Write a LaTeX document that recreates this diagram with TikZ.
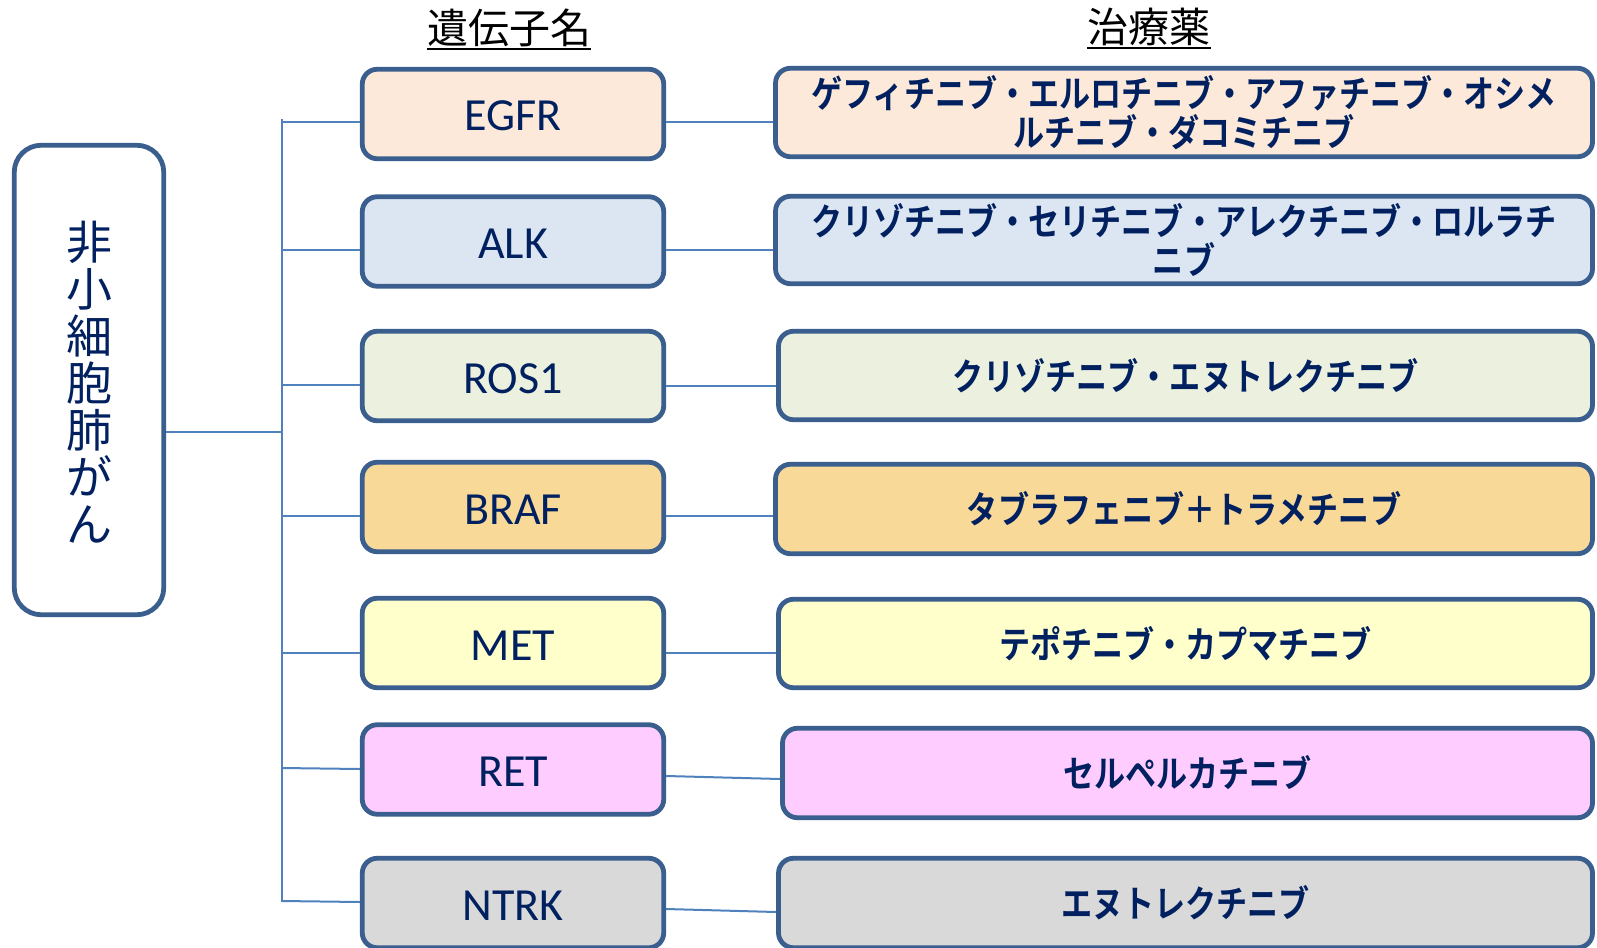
\documentclass[tikz,border=0pt]{standalone}
\usepackage{fontspec}
\setmainfont{Carlito}
\newfontfamily\jp{Noto Sans CJK JP}
\newfontfamily\jpb[FakeStretch=0.84]{Noto Sans CJK JP Bold}
\usetikzlibrary{calc}
\definecolor{bordc}{HTML}{3A5F8F}
\definecolor{linec}{HTML}{4F81BD}
\definecolor{navy}{HTML}{002060}
\definecolor{cEGFR}{HTML}{FDE9D9}
\definecolor{cALK}{HTML}{DCE6F2}
\definecolor{cROS}{HTML}{EBF1DE}
\definecolor{cBRAF}{HTML}{F9D998}
\definecolor{cMET}{HTML}{FFFFCC}
\definecolor{cRET}{HTML}{FFCCFF}
\definecolor{cNTRK}{HTML}{D9D9D9}
\newcommand{\gl}[1]{\raisebox{-17pt}[0pt][0pt]{#1}}
\tikzset{
  box/.style={draw=bordc, line width=4.8pt, rounded corners=15pt, inner sep=0pt, text=navy},
  genebox/.style={box, minimum width=301.5pt, minimum height=89.5pt, font=\fontsize{46}{50}\selectfont},
  drugbox/.style={box, minimum height=88.5pt, align=center, font=\jpb\fontsize{37}{39}\selectfont},
  conn/.style={draw=linec, line width=2pt},
  title/.style={inner sep=0pt, font=\jp\fontsize{41}{44}\selectfont, text=black},
  uline/.style={draw=black, line width=2.5pt}
}
\begin{document}
\begin{tikzpicture}[x=1pt,y=-1pt]
\useasboundingbox (0,0) rectangle (1597,947);
% titles
\node[title] (t1) at (509,28) {遺伝子名};
\node[title] (t2) at (1149,27) {治療薬};
\draw[uline] ($(t1.west)+(0,21)$) -- ($(t1.east)+(0,21)$);
\draw[uline] ($(t2.west)+(0,21)$) -- ($(t2.east)+(0,21)$);
% root
\node[box, rounded corners=27pt, minimum width=149.5pt, minimum height=469.5pt, fill=white] (root) at (89,380) {};
\node[inner sep=0pt, align=center, text=navy, font=\jp\fontsize{46}{47}\selectfont] (rootlabel) at (89,382) {非\\小\\細\\胞\\肺\\が\\ん};
% gene boxes
\node[genebox, fill=cEGFR] (g1) at (513,114) {\gl{EGFR}};
\node[genebox, fill=cALK]  (g2) at (513,241.5) {\gl{ALK}};
\node[genebox, fill=cROS]  (g3) at (513,376) {\gl{ROS1}};
\node[genebox, fill=cBRAF] (g4) at (513,507) {\gl{BRAF}};
\node[genebox, fill=cMET]  (g5) at (513,643) {\gl{MET}};
\node[genebox, fill=cRET]  (g6) at (513,769.5) {\gl{RET}};
\node[genebox, fill=cNTRK] (g7) at (513,903) {\gl{NTRK}};
% drug boxes
\node[drugbox, fill=cEGFR, minimum width=817pt, minimum height=88.5pt] (d1) at (1184,112.5) {ゲフィチニブ・エルロチニブ・アファチニブ・オシメ\\ルチニブ・ダコミチニブ};
\node[drugbox, fill=cALK, minimum width=817pt, minimum height=87.5pt] (d2) at (1184,240) {クリゾチニブ・セリチニブ・アレクチニブ・ロルラチ\\ニブ};
\node[drugbox, fill=cROS, minimum width=814pt] (d3) at (1185.5,375.5) {クリゾチニブ・エヌトレクチニブ};
\node[drugbox, fill=cBRAF, minimum width=817pt, minimum height=89.5pt] (d4) at (1184,509) {タブラフェニブ＋トラメチニブ};
\node[drugbox, fill=cMET, minimum width=814pt] (d5) at (1185.5,643.5) {テポチニブ・カプマチニブ};
\node[drugbox, fill=cRET, minimum width=810pt, minimum height=89.5pt] (d6) at (1187.5,773) {セルペルカチニブ};
\node[drugbox, fill=cNTRK, minimum width=814pt, minimum height=89.5pt] (d7) at (1185.5,903) {エヌトレクチニブ};
% spine
\coordinate (top) at (282,119);
\coordinate (bot) at (282,902);
\coordinate (j) at (282,432);
\draw[conn] (top) -- (bot);
\draw[conn] (root.east |- j) -- (j);
% branches
\coordinate (b1) at (282,122);
\coordinate (b2) at (282,250);
\coordinate (b3) at (282,385);
\coordinate (b4) at (282,516);
\coordinate (b5) at (282,653);
\coordinate (b6) at (282,768);
\coordinate (b7) at (282,901);
\draw[conn] (b1) -- (b1 -| g1.west);
\draw[conn] (b2) -- (b2 -| g2.west);
\draw[conn] (b3) -- (b3 -| g3.west);
\draw[conn] (b4) -- (b4 -| g4.west);
\draw[conn] (b5) -- (b5 -| g5.west);
\draw[conn] (b6) -- ($(g6.west)+(0,-0.5)$);
\draw[conn] (b7) -- ($(g7.west)+(0,-1)$);
% gene to drug
\coordinate (a1) at ($(g1.east)+(0,8)$);
\coordinate (a2) at ($(g2.east)+(0,8.5)$);
\coordinate (a3) at ($(g3.east)+(0,10)$);
\coordinate (a4) at ($(g4.east)+(0,9)$);
\coordinate (a5) at ($(g5.east)+(0,10)$);
\draw[conn] (a1) -- (a1 -| d1.west);
\draw[conn] (a2) -- (a2 -| d2.west);
\draw[conn] (a3) -- (a3 -| d3.west);
\draw[conn] (a4) -- (a4 -| d4.west);
\draw[conn] (a5) -- (a5 -| d5.west);
\draw[conn] ($(g6.east)+(0,6.5)$) -- ($(d6.west)+(0,6)$);
\draw[conn] ($(g7.east)+(0,6)$) -- ($(d7.west)+(0,9)$);
\end{tikzpicture}
\end{document}
